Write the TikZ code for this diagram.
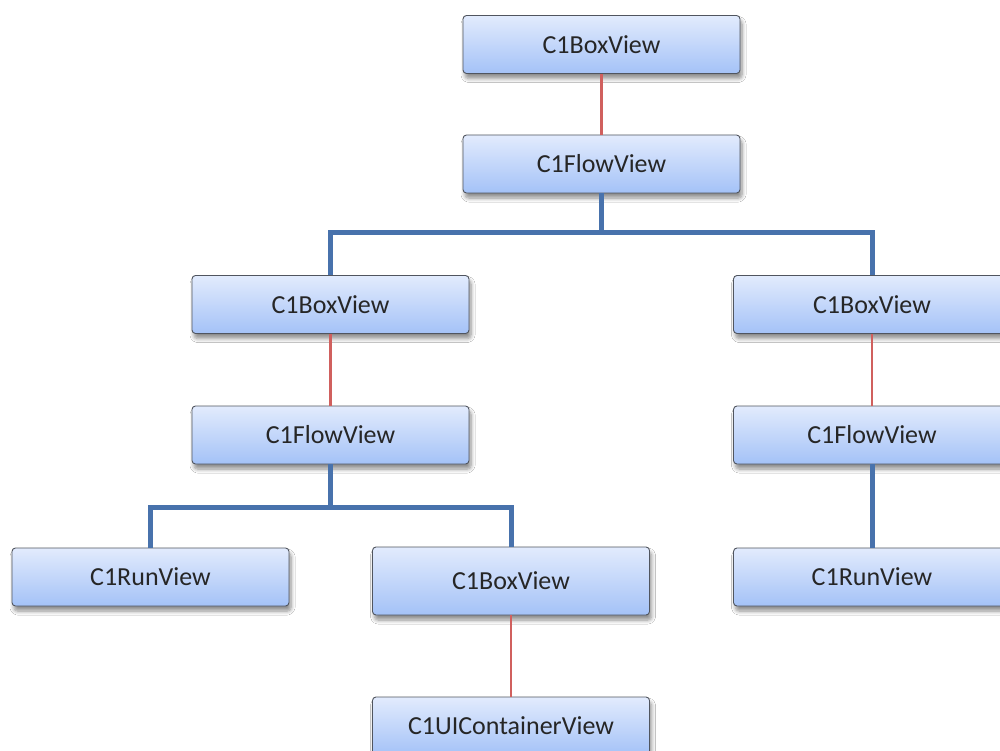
\documentclass[tikz,border=0pt]{standalone}
\usepackage{fontspec}
\setmainfont{Carlito}
\usetikzlibrary{shadows,shadows.blur}
\definecolor{boxtop}{RGB}{226,235,253}
\definecolor{boxbot}{RGB}{164,194,247}
\definecolor{boxedge}{RGB}{80,85,95}
\definecolor{redline}{RGB}{208,96,94}
\definecolor{blueline}{RGB}{72,114,172}
\tikzset{
  viewbox/.style={rectangle, rounded corners=3.5pt, draw=boxedge, line width=0.9pt,
    top color=boxtop, bottom color=boxbot, minimum width=277pt, minimum height=58pt,
    inner sep=0pt, font=\fontsize{26}{30}\selectfont, text=black!85,
    blur shadow={shadow xshift=2pt, shadow yshift=-5pt, shadow blur steps=6, shadow opacity=45, shadow blur radius=4pt}},
  redlink/.style={draw=redline, line width=2.6pt},
  bluelink/.style={draw=blueline, line width=5pt, line join=miter},
}
\begin{document}
\begin{tikzpicture}[x=1pt,y=-1pt]
\useasboundingbox[fill=white] (0,0) rectangle (1000,751);
\node[viewbox] (top) at (601.5,44.5) {C1BoxView};
\node[viewbox] (ft) at (601.5,164) {C1FlowView};
\node[viewbox] (lb) at (330.5,304.5) {C1BoxView};
\node[viewbox] (rb) at (872,304.5) {C1BoxView};
\node[viewbox] (lf) at (330.5,435) {C1FlowView};
\node[viewbox] (rf) at (872,435) {C1FlowView};
\node[viewbox] (runl) at (150.5,577) {C1RunView};
\node[viewbox, minimum height=68pt] (bb) at (511,581) {C1BoxView};
\node[viewbox] (uic) at (511,726) {C1UIContainerView};
\node[viewbox] (runr) at (872,577) {C1RunView};
\coordinate (j1) at (601.5,233);
\coordinate (j2) at (330.5,507);
\draw[redlink] (top.south) -- (ft.north);
\draw[redlink] (lb.south) -- (lf.north);
\draw[redlink] (rb.south) -- (rf.north);
\draw[redlink] (bb.south) -- (uic.north);
\draw[bluelink] (ft.south) -- (j1) -| (lb.north);
\draw[bluelink] (j1) -| (rb.north);
\draw[bluelink] (lf.south) -- (j2) -| (runl.north);
\draw[bluelink] (j2) -| (bb.north);
\draw[bluelink] (rf.south) -- (runr.north);
\end{tikzpicture}
\end{document}
